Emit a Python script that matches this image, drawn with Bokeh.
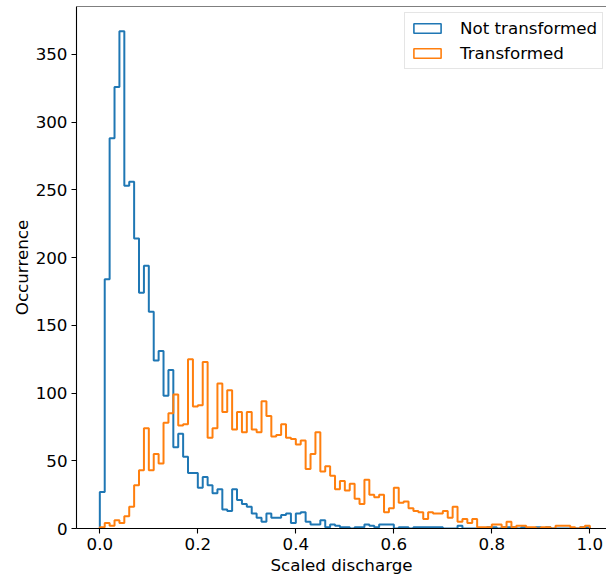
import numpy as np
from bokeh.plotting import figure
from bokeh.models import Range1d, FixedTicker, Legend, LegendItem, NumeralTickFormatter, Span
from bokeh.embed import file_html
from bokeh.resources import INLINE

# ---- data ----
bin_start = 0.0
bin_stop = 1.0
n_bins = 100

not_transformed = [
    27, 184, 288, 326, 367, 253, 256, 214, 174, 194,
    160, 124, 131, 98, 117, 60, 70, 53, 41, 41,
    30, 38, 32, 26, 29, 14, 13, 29, 21, 18,
    16, 11, 8, 5, 11, 8, 8, 10, 11, 4,
    11, 12, 5, 3, 3, 6, 1, 3, 2, 1,
    1, 0, 1, 1, 3, 2, 1, 3, 3, 3,
    0, 1, 1, 0, 1, 1, 1, 1, 1, 1,
    0, 0, 0, 2, 0, 0, 0, 0, 0, 1,
    1, 0, 1, 1, 1, 0, 1, 0, 0, 1,
    0, 1, 0, 0, 0, 0, 0, 0, 1, 1,
]

transformed = [
    1, 4, 2, 6, 4, 9, 16, 32, 43, 74,
    43, 55, 48, 78, 85, 99, 76, 77, 125, 90,
    91, 123, 67, 74, 107, 86, 102, 73, 86, 71,
    86, 73, 71, 94, 83, 68, 69, 77, 67, 66,
    62, 65, 44, 55, 71, 42, 46, 39, 29, 35,
    28, 33, 22, 18, 36, 25, 23, 25, 12, 15,
    30, 19, 20, 15, 13, 12, 7, 12, 11, 11,
    13, 8, 16, 5, 7, 4, 7, 1, 1, 1,
    3, 3, 1, 5, 1, 2, 2, 1, 1, 0,
    1, 1, 0, 2, 2, 2, 1, 0, 1, 2,
]

series_labels = ["Not transformed", "Transformed"]
series_colors = ["#1f77b4", "#ff7f0e"]

x_ticks = [0.0, 0.2, 0.4, 0.6, 0.8, 1.0]
y_ticks = [0, 50, 100, 150, 200, 250, 300, 350]

x_label = "Scaled discharge"
y_label = "Occurrence"

# ---- figure ----
FONT = "DejaVu Sans"
FS = "16.7px"
Y_TOP = 385.35

p = figure(
    output_backend="svg",
    toolbar_location=None,
    frame_width=530,
    frame_height=522,
    min_border_left=76,
    min_border_right=0,
    min_border_top=6,
    min_border_bottom=40,
    x_range=Range1d(-0.0476, 1.034),
    y_range=Range1d(0, Y_TOP),
)
p.background_fill_color = "white"
p.border_fill_color = "white"
p.outline_line_color = None
p.xgrid.visible = False
p.ygrid.visible = False

# top spine (right spine lies outside the visible crop in the reference)
p.add_layout(Span(location=Y_TOP, dimension="width", line_color="black", line_width=1.1))

edges = np.linspace(bin_start, bin_stop, n_bins + 1)
legend_items = []
for counts, label, color in zip([not_transformed, transformed], series_labels, series_colors):
    xs = np.repeat(edges, 2)
    ys = np.concatenate([[0], np.repeat(np.asarray(counts, dtype=float), 2), [0]])
    p.line(xs, ys, line_color=color, line_width=2)
    # legend-only patch (NaN geometry: not drawn in the plot area)
    dummy = p.quad(left=[np.nan], right=[np.nan], top=[np.nan], bottom=[np.nan],
                   fill_alpha=0, line_color=color, line_width=1.6)
    legend_items.append(LegendItem(label=label, renderers=[dummy]))

for ax in (p.xaxis[0], p.yaxis[0]):
    ax.axis_line_color = "black"
    ax.axis_line_width = 1.1
    ax.major_tick_line_color = "black"
    ax.major_tick_line_width = 1.1
    ax.major_tick_out = 5
    ax.major_tick_in = 0
    ax.minor_tick_line_color = None
    ax.major_label_text_font = FONT
    ax.major_label_text_font_size = FS
    ax.major_label_text_color = "black"
    ax.axis_label_text_font = FONT
    ax.axis_label_text_font_size = FS
    ax.axis_label_text_font_style = "normal"
    ax.axis_label_text_color = "black"

p.xaxis.ticker = FixedTicker(ticks=x_ticks)
p.xaxis.formatter = NumeralTickFormatter(format="0.0")
p.yaxis.ticker = FixedTicker(ticks=y_ticks)
p.xaxis.axis_label = x_label
p.yaxis.axis_label = y_label
p.xaxis.major_label_standoff = 4
p.xaxis.axis_label_standoff = 2
p.yaxis.major_label_standoff = 4
p.yaxis.axis_label_standoff = 1

legend = Legend(
    items=legend_items,
    location=(328, 459),
    glyph_width=34,
    glyph_height=12,
    label_standoff=16,
    padding=5,
    spacing=5,
    label_text_font=FONT,
    label_text_font_size=FS,
    label_text_color="black",
    border_line_color="#cccccc",
    border_line_width=1,
    background_fill_color="white",
    background_fill_alpha=1.0,
)
p.add_layout(legend, "center")

open("out.html", "w").write(file_html(p, INLINE))
